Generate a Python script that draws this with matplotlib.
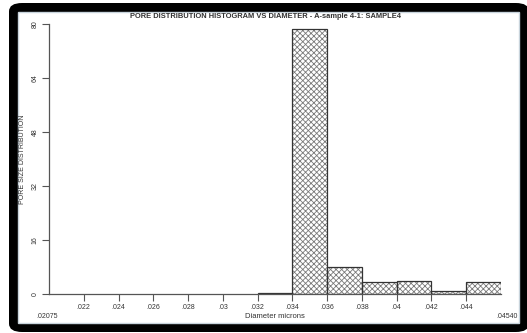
import matplotlib.pyplot as plt
from matplotlib.patches import FancyBboxPatch

# 히스토그램 값 (구간 왼쪽 끝, 비율 %)
bin_left = [0.032, 0.034, 0.036, 0.038, 0.040, 0.042, 0.044]
bin_width = 0.002
pore_pct = [0.3, 78.5, 8.0, 3.6, 3.8, 0.8, 3.6]

x_ticks = [0.022, 0.024, 0.026, 0.028, 0.030, 0.032, 0.034, 0.036, 0.038, 0.040, 0.042, 0.044]
x_tick_labels = ['.022', '.024', '.026', '.028', '.03', '.032', '.034', '.036', '.038', '.04', '.042', '.044']
y_ticks = [0, 16, 32, 48, 64, 80]

plt.rcParams['font.family'] = ['Liberation Sans', 'DejaVu Sans']
plt.rcParams['hatch.linewidth'] = 0.6

fig = plt.figure(figsize=(5.27, 3.33), dpi=100)
fig.patch.set_facecolor('white')

# 바깥 검은 테두리 + 안쪽 흰 영역 (픽셀 기준)
W, H = 527, 333
outer = FancyBboxPatch((9 / W, 1 / H), 520 / W, 329 / H,
                       boxstyle='round,pad=0,rounding_size=0.025',
                       transform=fig.transFigure, facecolor='black', edgecolor='none', zorder=0)
inner = FancyBboxPatch((18 / W, 10 / H), 501 / W, 311 / H,
                       boxstyle='square,pad=0',
                       transform=fig.transFigure, facecolor='white', edgecolor='#c8d4dc',
                       linewidth=1.0, zorder=1)
fig.patches.extend([outer, inner])

ax = fig.add_axes([49 / W, 1 - 294 / H, (501 - 49) / W, (294 - 24) / H])
ax.set_facecolor('none')
ax.set_zorder(2)

# 해칭 채우기 + 테두리
ax.bar(bin_left, pore_pct, width=bin_width, align='edge', color='white',
       edgecolor='#7a7a7a', hatch='xxxxxx', linewidth=0)
ax.bar(bin_left, pore_pct, width=bin_width, align='edge', fill=False,
       edgecolor='#333333', linewidth=0.9)

ax.set_xlim(0.020, 0.046)
ax.set_ylim(0, 80)

for side in ['top', 'right']:
    ax.spines[side].set_visible(False)
for side in ['left', 'bottom']:
    ax.spines[side].set_color('#555555')
    ax.spines[side].set_linewidth(0.9)

ax.set_xticks(x_ticks)
ax.set_xticklabels(x_tick_labels)
ax.set_yticks(y_ticks)
ax.set_yticklabels([str(v) for v in y_ticks], rotation=90, va='center')
ax.tick_params(axis='both', labelsize=5, colors='#555555', labelcolor='#333333',
               length=5, width=0.8, pad=2.5)

ax.set_ylabel('PORE SIZE DISTRIBUTION', fontsize=5, color='#333333')
ax.yaxis.set_label_coords(-0.05, 0.5)
ax.text(0.5, -0.082, 'Diameter microns', transform=ax.transAxes, ha='center', va='center',
        fontsize=5.5, color='#333333')
ax.text(-0.004, -0.082, '.02075', transform=ax.transAxes, ha='center', va='center',
        fontsize=5, color='#333333')
ax.text(1.013, -0.082, '.04540', transform=ax.transAxes, ha='center', va='center',
        fontsize=5, color='#333333')

fig.text(265 / W, 1 - 16.5 / H, 'PORE DISTRIBUTION HISTOGRAM VS DIAMETER - A-sample 4-1: SAMPLE4',
         ha='center', va='center', fontsize=5.4, fontweight='bold', color='#333333')

fig.savefig('out.png', dpi=100)
